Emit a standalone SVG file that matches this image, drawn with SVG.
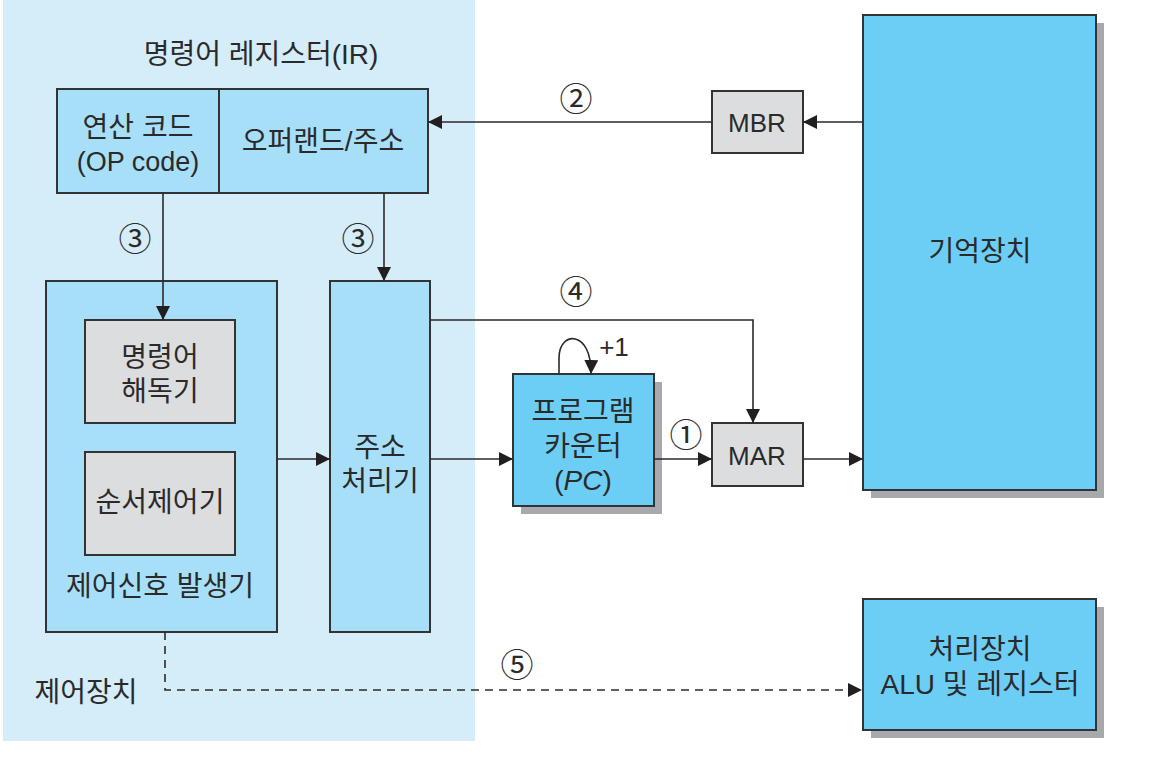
<svg xmlns="http://www.w3.org/2000/svg" width="1156" height="780" viewBox="0 0 1156 780">
<style>
text{font-family:"Liberation Sans","Noto Sans CJK KR",sans-serif;font-size:28px;fill:#2b2a2a;text-anchor:middle;dominant-baseline:central}
.num{font-family:"Noto Sans CJK KR","Liberation Sans",sans-serif;font-size:33px}
.lat{font-size:26px}
.box{stroke:#333;stroke-width:2}
.lt{fill:#a8dff8}
.br{fill:#6ccef5}
.gr{fill:#dcdddf}
.sh{fill:#a7a9ac}
.wire{fill:none;stroke:#2b2a2a;stroke-width:1.6}
</style>
<defs>
<marker id="ah" markerUnits="userSpaceOnUse" markerWidth="15" markerHeight="15" refX="14" refY="7" orient="auto">
<path d="M0,0 L14,7 L0,14 z" fill="#231f20"/>
</marker>
</defs>
<rect x="3" y="0" width="472" height="741" fill="#d5ecf9"/>
<text x="261" y="54">명령어 레지스터(IR)</text>
<text x="86" y="692">제어장치</text>
<g id="ir">
<rect class="box lt" x="57" y="89" width="371" height="104"/>
<line x1="219" y1="89" x2="219" y2="193" stroke="#333" stroke-width="2"/>
<text x="138" y="127">연산 코드</text>
<text x="138" y="162" style="font-size:27px">(OP code)</text>
<text x="323" y="141">오퍼랜드/주소</text>
</g>
<g id="control">
<rect class="box lt" x="46" y="281" width="231" height="351"/>
<text x="160" y="586">제어신호 발생기</text>
</g>
<g id="decoder">
<rect class="box gr" x="85" y="320" width="150" height="103"/>
<text x="160" y="357">명령어</text>
<text x="160" y="391">해독기</text>
</g>
<g id="sequencer">
<rect class="box gr" x="85" y="452" width="150" height="103"/>
<text x="160" y="502">순서제어기</text>
</g>
<g id="addr">
<rect class="box lt" x="330" y="281" width="100" height="351"/>
<text x="380" y="447">주소</text>
<text x="380" y="481">처리기</text>
</g>
<g id="pc">
<rect class="sh" x="521" y="382" width="141" height="132"/>
<rect class="box br" x="513" y="374" width="141" height="132"/>
<text x="583" y="411">프로그램</text>
<text x="583" y="446">카운터</text>
<text x="583" y="480">(<tspan font-style="italic">PC</tspan>)</text>
</g>
<g id="mar">
<rect class="box gr" x="712" y="423" width="91" height="63"/>
<text class="lat" x="757" y="456">MAR</text>
</g>
<g id="mbr">
<rect class="box gr" x="712" y="91" width="91" height="62"/>
<text class="lat" x="757" y="123">MBR</text>
</g>
<g id="memory">
<rect class="sh" x="871" y="23" width="233" height="475"/>
<rect class="box br" x="863" y="15" width="233" height="475"/>
<text x="980" y="251">기억장치</text>
</g>
<g id="alu">
<rect class="sh" x="871" y="607" width="233" height="131"/>
<rect class="box br" x="863" y="599" width="233" height="131"/>
<text x="980" y="649">처리장치</text>
<text x="980" y="684">ALU 및 레지스터</text>
</g>
<g id="connectors">
<path class="wire" d="M863,122 L803,122" marker-end="url(#ah)"/>
<path class="wire" d="M712,122 L428,122" marker-end="url(#ah)"/>
<path class="wire" d="M163,193 L163,320" marker-end="url(#ah)"/>
<path class="wire" d="M384,193 L384,281" marker-end="url(#ah)"/>
<path class="wire" d="M277,459 L330,459" marker-end="url(#ah)"/>
<path class="wire" d="M430,459 L513,459" marker-end="url(#ah)"/>
<path class="wire" d="M654,459 L712,459" marker-end="url(#ah)"/>
<path class="wire" d="M803,459 L863,459" marker-end="url(#ah)"/>
<path class="wire" d="M430,320 L753,320 L753,423" marker-end="url(#ah)"/>
<path class="wire" d="M559,374 L559,358 C559,330 592,330 591,374" marker-end="url(#ah)"/>
<path class="wire" d="M165,632 L165,690 L862,690" stroke-dasharray="8,6" marker-end="url(#ah)"/>
<text class="lat" x="614" y="347">+1</text>
<text class="num" x="576" y="97">②</text>
<text class="num" x="135" y="237">③</text>
<text class="num" x="358" y="237">③</text>
<text class="num" x="576" y="290">④</text>
<text class="num" x="686" y="433">①</text>
<text class="num" x="517" y="663">⑤</text>
</g>
</svg>
